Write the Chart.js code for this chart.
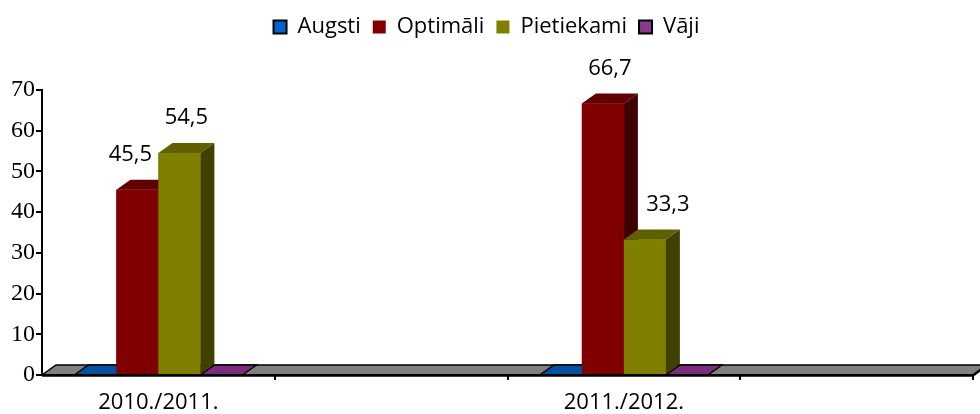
<!DOCTYPE html>
<html>
<head>
<meta charset="utf-8">
<script src="https://cdn.jsdelivr.net/npm/chart.js@4"></script>
<style>
    html, body { margin: 0; padding: 0; background: #fff; }
</style>
</head>
<body>
<canvas id="chart" width="980" height="414"></canvas>
<script>
// chart values
const categories = ['2010./2011.', '2011./2012.'];
const seriesNames = ['Augsti', 'Optimāli', 'Pietiekami', 'Vāji'];
const augsti = [0, 0];
const optimali = [45.5, 66.7];
const pietiekami = [54.5, 33.3];
const vaji = [0, 0];
const yTicks = [0, 10, 20, 30, 40, 50, 60, 70];

// front / top / side colours of each series
const faces = [
    { front: '#0058a8', top: '#0052a0', side: '#003466' },
    { front: '#800000', top: '#600000', side: '#400000' },
    { front: '#808000', top: '#606000', side: '#404000' },
    { front: '#8b3a8b', top: '#7c2c7c', side: '#4a104a' }
];
const depthX = 14;
const depthY = -10;

// every category is followed by an empty slot, like the original layout
function spread(arr) {
    return arr.flatMap(v => [v, null]);
}

function fmt(v) {
    return v.toFixed(1).replace('.', ',');
}

function poly(ctx, pts, fill, stroke, lw) {
    ctx.beginPath();
    ctx.moveTo(pts[0][0], pts[0][1]);
    for (let i = 1; i < pts.length; i++) ctx.lineTo(pts[i][0], pts[i][1]);
    ctx.closePath();
    if (fill) { ctx.fillStyle = fill; ctx.fill(); }
    if (stroke) { ctx.strokeStyle = stroke; ctx.lineWidth = lw; ctx.stroke(); }
}

const floorPlugin = {
    id: 'floor3d',
    beforeDatasetsDraw(chart) {
        const ctx = chart.ctx;
        const area = chart.chartArea;
        const base = chart.scales.y.getPixelForValue(0);
        ctx.save();
        poly(ctx, [
            [area.left, base], [area.right, base],
            [area.right + depthX, base + depthY], [area.left + depthX, base + depthY]
        ], '#808080', '#000', 1.5);
        ctx.restore();
    },
    afterDatasetsDraw(chart) {
        const ctx = chart.ctx;
        const area = chart.chartArea;
        const xs = chart.scales.x;
        const base = chart.scales.y.getPixelForValue(0);
        const sets = chart.data.datasets;
        ctx.save();
        sets.forEach((ds, i) => {
            const meta = chart.getDatasetMeta(i);
            const c = faces[i];
            meta.data.forEach((bar, j) => {
                const v = ds.data[j];
                if (v === null) return;
                const p = bar.getProps(['x', 'y', 'base', 'width'], true);
                const l = p.x - p.width / 2;
                const r = p.x + p.width / 2;
                if (v === 0) {
                    poly(ctx, [[l, p.base], [r, p.base], [r + depthX, p.base + depthY], [l + depthX, p.base + depthY]],
                        c.top, '#000', 1.5);
                    return;
                }
                ctx.fillStyle = c.front;
                ctx.fillRect(l, p.y, p.width, p.base - p.y);
                poly(ctx, [[l, p.y], [r, p.y], [r + depthX, p.y + depthY], [l + depthX, p.y + depthY]], c.top);
                poly(ctx, [[r, p.y], [r + depthX, p.y + depthY], [r + depthX, p.base + depthY], [r, p.base]], c.side);
            });
        });
        // front edge of the floor
        ctx.beginPath();
        ctx.moveTo(area.left, base + 0.5);
        ctx.lineTo(area.right, base + 0.5);
        ctx.lineTo(area.right + depthX, base + depthY);
        ctx.strokeStyle = '#000';
        ctx.lineWidth = 2.5;
        ctx.stroke();
        // tick marks between the slots of the category axis
        const n = xs.getLabels().length;
        const slot = (area.right - area.left) / n;
        ctx.lineWidth = 2;
        for (let k = 1; k <= n; k++) {
            const tx = Math.round(xs.getPixelForValue(k - 1) + slot / 2);
            ctx.beginPath();
            ctx.moveTo(tx, base);
            ctx.lineTo(tx, base + 5);
            ctx.stroke();
        }
        // value labels, nudged away from a taller neighbour
        ctx.font = '22px "Open Sans"';
        ctx.fillStyle = '#000';
        ctx.textAlign = 'center';
        ctx.textBaseline = 'middle';
        sets.forEach((ds, i) => {
            const meta = chart.getDatasetMeta(i);
            meta.data.forEach((bar, j) => {
                const v = ds.data[j];
                if (!v) return;
                let x = bar.x + depthX / 2;
                if (i + 1 < sets.length && sets[i + 1].data[j] > v) x -= 14;
                if (i > 0 && sets[i - 1].data[j] > v) x += 16;
                ctx.fillText(fmt(v), x, bar.y - 35);
            });
        });
        ctx.restore();
    }
};

const legendSpace = {
    id: 'legendSpace',
    beforeInit(chart) {
        const fit = chart.legend.fit;
        chart.legend.fit = function () {
            fit.bind(chart.legend)();
            this.height += 42;
        };
    }
};

const seriesData = [augsti, optimali, pietiekami, vaji];

new Chart(document.getElementById('chart'), {
    type: 'bar',
    data: {
        labels: spread(categories),
        datasets: seriesNames.map((name, i) => ({
            label: name,
            data: spread(seriesData[i]),
            backgroundColor: faces[i].front,
            borderWidth: 0,
            // the bar ruler spans two slots here (data sits on every other slot)
            categoryPercentage: 0.361,
            barPercentage: 1
        }))
    },
    options: {
        responsive: false,
        devicePixelRatio: 1,
        animation: false,
        layout: { padding: { left: 0, right: 7, top: 4, bottom: 0 } },
        plugins: {
            tooltip: { enabled: false },
            legend: {
                position: 'top',
                labels: {
                    color: '#000',
                    font: { family: 'Open Sans', size: 22 },
                    boxWidth: 13,
                    boxHeight: 13,
                    padding: 12,
                    generateLabels(chart) {
                        const items = Chart.defaults.plugins.legend.labels.generateLabels(chart);
                        items.forEach((it, i) => {
                            it.fillStyle = i === 0 ? '#0066cc' : faces[i].front;
                            it.strokeStyle = '#000';
                            it.lineWidth = (i === 0 || i === 3) ? 2 : 0;
                        });
                        return items;
                    }
                }
            }
        },
        scales: {
            x: {
                afterFit(s) { s.height = 39; },
                grid: { display: false },
                border: { display: false },
                ticks: {
                    color: '#000',
                    font: { family: 'Open Sans', size: 22 },
                    autoSkip: false,
                    maxRotation: 0,
                    padding: 7
                }
            },
            y: {
                min: yTicks[0],
                max: yTicks[yTicks.length - 1],
                afterFit(s) { s.width = 42; },
                afterBuildTicks(s) { s.ticks = yTicks.map(v => ({ value: v })); },
                grid: { drawOnChartArea: false, color: '#000', lineWidth: 2, tickLength: 6 },
                border: { color: '#000', width: 2 },
                ticks: {
                    color: '#000',
                    font: { family: 'Liberation Serif', size: 24 },
                    padding: 1
                }
            }
        }
    },
    plugins: [floorPlugin, legendSpace]
});
</script>
</body>
</html>
